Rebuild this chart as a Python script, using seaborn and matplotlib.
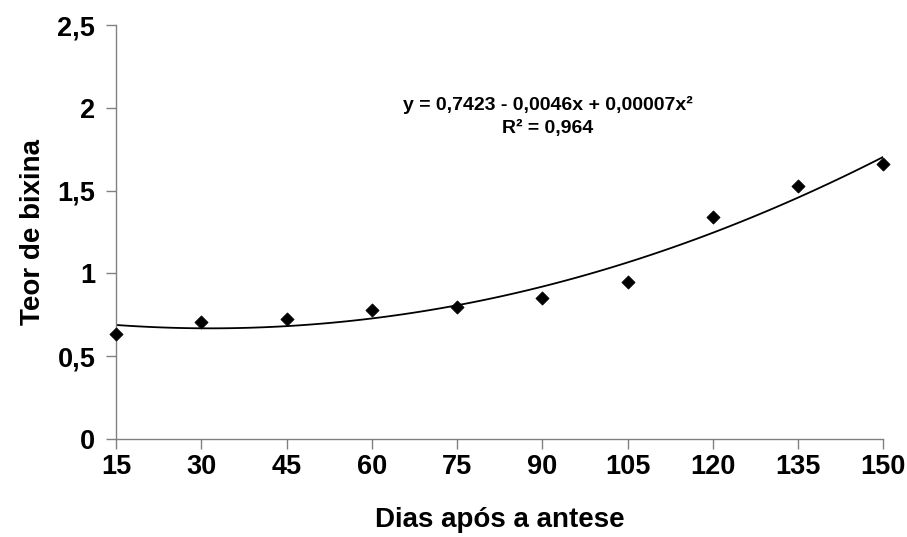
import matplotlib
matplotlib.use("Agg")
import matplotlib.pyplot as plt
import seaborn as sns
import pandas as pd

# dias apos a antese x teor de bixina
dias = [15, 30, 45, 60, 75, 90, 105, 120, 135, 150]
teor = [0.634, 0.707, 0.725, 0.78, 0.80, 0.85, 0.948, 1.34, 1.53, 1.66]
yticks = [0, 0.5, 1, 1.5, 2, 2.5]
ylabels = ["0", "0,5", "1", "1,5", "2", "2,5"]
equacao = "y = 0,7423 - 0,0046x + 0,00007x²\nR² = 0,964"

df = pd.DataFrame({"dias": dias, "teor": teor})

sns.set_style("ticks")
plt.rcParams["font.family"] = ["Liberation Sans", "DejaVu Sans"]
plt.rcParams["font.weight"] = "bold"
plt.rcParams["text.color"] = "black"
plt.rcParams["axes.labelcolor"] = "black"
plt.rcParams["xtick.labelcolor"] = "black"
plt.rcParams["ytick.labelcolor"] = "black"

fig = plt.figure(figsize=(9.07, 5.37), dpi=100)
ax = fig.add_axes([0.128, 0.1825, 0.846, 0.7705])

# curva de tendencia polinomial de 2a ordem
sns.regplot(data=df, x="dias", y="teor", order=2, ci=None, truncate=True,
            scatter=False, line_kws={"color": "black", "lw": 1.3}, ax=ax)
sns.scatterplot(data=df, x="dias", y="teor", marker="D", color="black",
                s=45, edgecolor="black", zorder=3, clip_on=False, ax=ax)

ax.set_xlim(15, 150)
ax.set_ylim(0, 2.5)
ax.set_xticks(dias)
ax.set_xticklabels([str(d) for d in dias], fontsize=19.5, fontweight="bold")
ax.set_yticks(yticks)
ax.set_yticklabels(ylabels, fontsize=19.5, fontweight="bold")
ax.tick_params(axis="both", direction="out", length=7, width=1, color="#808080")
ax.tick_params(axis="x", pad=4)
ax.tick_params(axis="y", pad=8)

for s in ["top", "right"]:
    ax.spines[s].set_visible(False)
for s in ["left", "bottom"]:
    ax.spines[s].set_color("#808080")
    ax.spines[s].set_linewidth(1)

ax.set_xlabel("Dias após a antese", fontsize=20, fontweight="bold", labelpad=19)
ax.set_ylabel("Teor de bixina", fontsize=20, fontweight="bold", labelpad=8)

ax.text(91, 1.95, equacao, ha="center", va="center", fontsize=14,
        fontweight="bold", linespacing=1.45)

fig.savefig("out.png", dpi=100)
